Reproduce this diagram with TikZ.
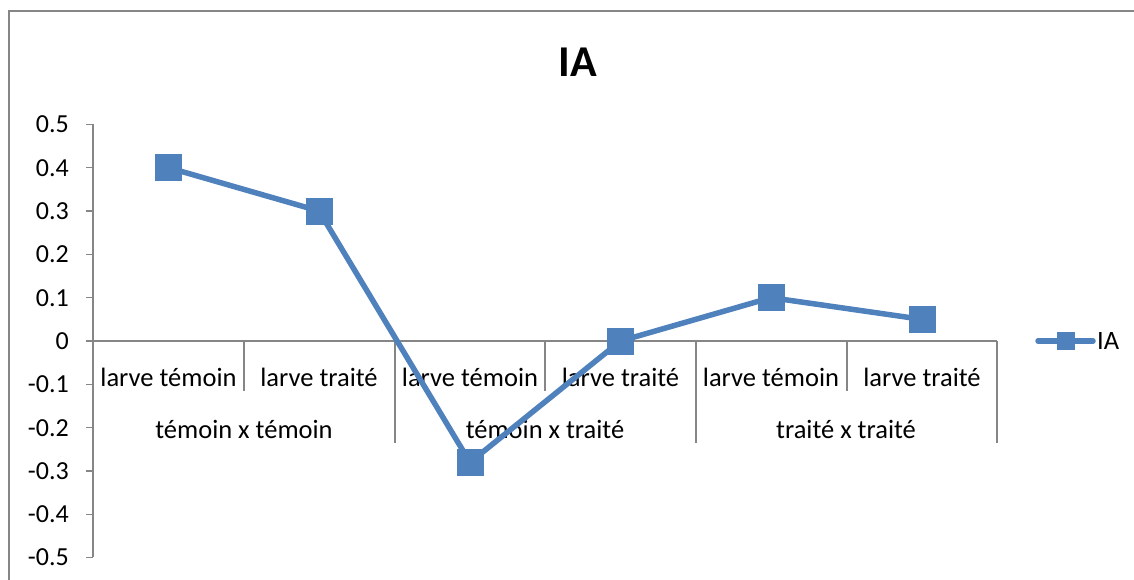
\documentclass[tikz,border=0pt]{standalone}
\usepackage{fontspec}
\setmainfont{Carlito}
\definecolor{serie}{HTML}{4F81BD}
\definecolor{axe}{HTML}{868686}
\begin{document}
\begin{tikzpicture}[x=1pt,y=-1pt,
  axisline/.style={draw=axe,line width=1.5pt},
  ticklab/.style={font=\fontsize{26}{28}\selectfont,anchor=east,inner sep=0pt},
  catlab/.style={font=\fontsize{26.5}{28}\selectfont,inner sep=0pt},
  mk/.style={fill=serie,minimum size=27pt,inner sep=0pt,draw=none},
  serieline/.style={draw=serie,line width=5.5pt,line join=round}]
\useasboundingbox (0,0) rectangle (1134,579);
\fill[white] (0,0) rectangle (1134,579);
% chart frame
\draw[axe,line width=2pt] (9,600) -- (9,11) -- (1150,11);
% title
\node[font=\fontsize{44}{48}\selectfont\bfseries] (title) at (578,62) {IA};
% value axis
\draw[axisline] (93,124) -- (93,557);
\foreach \v/\t in {0.5/0.5,0.4/0.4,0.3/0.3,0.2/0.2,0.1/0.1,0/0,-0.1/-0.1,-0.2/-0.2,-0.3/-0.3,-0.4/-0.4,-0.5/-0.5}{
  \pgfmathsetmacro{\yy}{341-433.3*\v}
  \draw[axisline] (86,\yy) -- (93,\yy);
  \node[ticklab] at (69,\yy) {\t};
}
% category axis
\draw[axisline] (93,341) -- (997,341);
\foreach \x in {244,545,847}{\draw[axisline] (\x,341) -- (\x,391);}
\foreach \x in {93,395,696,997}{\draw[axisline] (\x,341) -- (\x,443);}
\foreach \x/\t in {168.5/larve témoin,319/larve traité,470/larve témoin,620.5/larve traité,771/larve témoin,922/larve traité}{
  \node[catlab] at (\x,377) {\t};
}
\node[catlab] (g1) at (244,429) {témoin x témoin};
\node[catlab] (g2) at (545,429) {témoin x traité};
\node[catlab] (g3) at (846,429) {traité x traité};
% data series
\coordinate (p1) at (168.5,{341-433.3*0.4});
\coordinate (p2) at (319,{341-433.3*0.3});
\coordinate (p3) at (470,{341-433.3*(-0.28)});
\coordinate (p4) at (620.5,341);
\coordinate (p5) at (771,{341-433.3*0.1});
\coordinate (p6) at (922,{341-433.3*0.05});
\draw[serieline] (p1) -- (p2) -- (p3) -- (p4) -- (p5) -- (p6);
\foreach \p in {p1,p2,p3,p4,p5,p6}{\node[mk] (m\p) at (\p) {};}
% legend
\coordinate (la) at (1038,341);
\coordinate (lb) at (1093,341);
\draw[serie,line width=5.5pt,line cap=round] (la) -- (lb);
\node[fill=serie,minimum size=18pt,inner sep=0pt] (lm) at (1065.5,341) {};
\node[catlab,anchor=west] (lt) at (1097,341) {IA};
\end{tikzpicture}
\end{document}
